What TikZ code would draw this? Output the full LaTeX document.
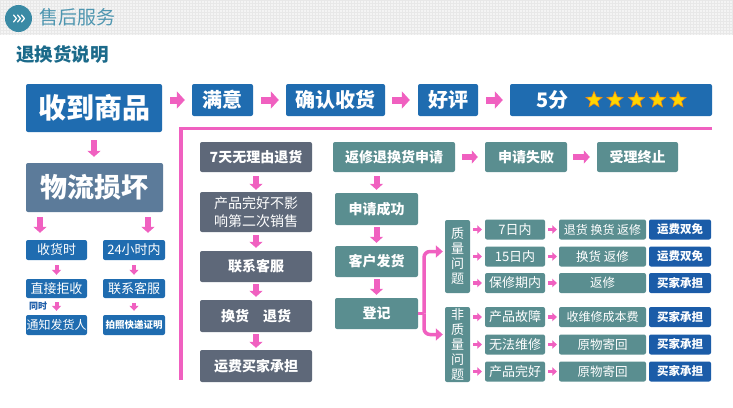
\documentclass[tikz,border=0pt]{standalone}
\usepackage{fontspec}
\setmainfont{Noto Sans CJK SC}
\usetikzlibrary{arrows.meta,shapes.geometric}
\definecolor{pk}{RGB}{240,96,192}
\definecolor{bl}{RGB}{31,108,176}
\definecolor{bld}{RGB}{27,92,168}
\definecolor{sl}{RGB}{92,123,154}
\definecolor{ds}{RGB}{94,104,121}
\definecolor{tl}{RGB}{90,142,144}
\definecolor{hd}{RGB}{78,150,176}
\definecolor{ic}{RGB}{58,138,165}
\definecolor{ht}{RGB}{27,106,138}
\definecolor{hb}{RGB}{244,244,244}
\definecolor{hg}{RGB}{232,232,232}
\definecolor{sty}{RGB}{255,214,0}
\definecolor{sto}{RGB}{240,140,20}
\begin{document}
\begin{tikzpicture}[x=1pt,y=-1pt,
  bx/.style={rounded corners=2pt, text=white, inner sep=0pt, align=center},
  big/.style={bx, fill=bl, font=\bfseries\fontsize{28}{32}\selectfont},
  rone/.style={bx, fill=bl, minimum height=32pt, font=\bfseries\fontsize{20}{24}\selectfont},
  lc/.style={bx, fill=bl, minimum width=61pt, minimum height=20pt, font=\fontsize{13}{15}\selectfont},
  dk/.style={bx, fill=ds, minimum width=112pt, font=\bfseries\fontsize{14}{18}\selectfont},
  tb/.style={bx, fill=tl, font=\bfseries\fontsize{14}{17}\selectfont},
  cb/.style={bx, fill=tl, minimum width=60pt, minimum height=20pt, font=\fontsize{13}{15}\selectfont},
  cc/.style={bx, fill=tl, minimum width=87pt, minimum height=20pt, font=\fontsize{12.5}{15}\selectfont},
  cd/.style={bx, fill=bld, minimum width=62pt, minimum height=20pt, font=\bfseries\fontsize{11.5}{14}\selectfont},
  vq/.style={bx, fill=tl, minimum width=25pt, font=\fontsize{13}{15}\selectfont},
  pa/.style={pk, line width=7pt, -{Triangle[length=8pt,width=17pt]}},
  pm/.style={pk, line width=6pt, -{Triangle[length=6pt,width=13pt]}},
  ps/.style={pk, line width=4pt, -{Triangle[length=5pt,width=9pt]}},
  pt/.style={pk, line width=3.5pt, -{Triangle[length=4.5pt,width=8.5pt]}},
  brk/.style={pk, line width=3.5pt, rounded corners=6pt},
  strs/.style={star, star points=5, star point ratio=2.3, fill=sty, draw=sto, line width=0.6pt, minimum size=17pt, inner sep=0pt}
]
\useasboundingbox (0,0) rectangle (733,407);
\fill[white] (0,0) rectangle (733,407);
% header band
\fill[hb] (0,0) rectangle (733,35);
\foreach \i in {0,3,...,733} \draw[hg, line width=0.5pt] (\i,0) -- (\i,35);
\foreach \j in {0,3,...,33} \draw[hg, line width=0.5pt] (0,\j) -- (733,\j);
\node[circle, fill=ic, minimum size=27pt, inner sep=0pt] (icon) at (18.5,18.5) {};
\foreach \d in {-5,-1,3}
  \draw[white, line width=1.2pt, line cap=round, line join=round]
    ([xshift=\d pt, yshift=3.5pt]icon.center) -- ([xshift={\d pt+3pt}]icon.center) -- ([xshift=\d pt, yshift=-3.5pt]icon.center);
\node[anchor=west, text=hd, font=\fontsize{19}{22}\selectfont, inner sep=0pt] (title) at (39,17.5) {售后服务};
\node[anchor=west, text=ht, font=\bfseries\fontsize{18.5}{22}\selectfont, inner sep=0pt] (sub) at (16,54.5) {退换货说明};

% row 1
\node[big, minimum width=136pt, minimum height=48pt] (sp) at (94,108) {收到商品};
\node[rone, minimum width=61pt] (my) at (222.5,100) {满意};
\node[rone, minimum width=99pt] (qr) at (335.5,100) {确认收货};
\node[rone, minimum width=60pt] (hp) at (448,100) {好评};
\node[rone, minimum width=202pt] (wf) at (611,100) {};
\node[text=white, font=\bfseries\fontsize{20}{24}\selectfont, inner sep=0pt] (wft) at (552.5,100) {5分};
\node[strs] (s1) at (594,100) {};
\node[strs] (s2) at (615,100) {};
\node[strs] (s3) at (636.5,100) {};
\node[strs] (s4) at (657.5,100) {};
\node[strs] (s5) at (678,100) {};
\draw[pa, shorten <=8pt, shorten >=7pt] (sp.east |- my.west) -- (my.west);
\draw[pa, shorten <=8pt, shorten >=7pt] (my.east) -- (qr.west);
\draw[pa, shorten <=7pt, shorten >=8pt] (qr.east) -- (hp.west);
\draw[pa, shorten <=8pt, shorten >=7pt] (hp.east) -- (wf.west);

% pink frame line
\draw[pk, line width=3.5pt] (712,128.5) -- (181,128.5) -- (181,380);

% left column
\node[bx, fill=sl, minimum width=137pt, minimum height=49pt, font=\bfseries\fontsize{27}{31}\selectfont] (wl) at (94.5,187.5) {物流损坏};
\draw[pm, shorten <=8pt, shorten >=6pt] (sp.south) -- (sp.south |- wl.north);
\node[lc] (sh) at (56.5,250) {收货时};
\node[lc, minimum width=62pt] (h24) at (134,250) {24小时内};
\node[lc, minimum height=19pt] (zj) at (56.5,288.5) {直接拒收};
\node[lc, minimum width=62pt, minimum height=19pt] (lk) at (134,288.5) {联系客服};
\node[lc, font=\fontsize{12}{14}\selectfont] (tz) at (56.5,325) {通知发货人};
\node[lc, minimum width=62pt, font=\bfseries\fontsize{9.5}{12}\selectfont] (pz) at (134,325) {拍照快递证明};
\draw[pm, shorten <=5pt, shorten >=7pt] ([xshift=-16.5pt]sh.north |- wl.south) -- ([xshift=-16.5pt]sh.north);
\draw[pm, shorten <=5pt, shorten >=7pt] ([xshift=14pt]h24.north |- wl.south) -- ([xshift=14pt]h24.north);
\draw[ps, shorten <=5pt, shorten >=4pt] (sh.south) -- (zj.north);
\draw[ps, shorten <=5pt, shorten >=4pt] (h24.south) -- (lk.north);
\draw[ps, shorten <=4pt, shorten >=4pt] (zj.south) -- (tz.north);
\draw[ps, shorten <=5pt, shorten >=4pt] (lk.south) -- (pz.north);
\node[text=bld, font=\bfseries\fontsize{9}{10}\selectfont, inner sep=0pt] (ts) at (38,306.5) {同时};

% 7-day column
\node[dk, minimum height=30pt] (q7) at (256,157) {7天无理由退货};
\node[dk, minimum height=40pt, font=\fontsize{14}{18}\selectfont] (cp) at (256,212) {产品完好不影\\响第二次销售};
\node[dk, minimum height=31pt] (kf) at (256,266.5) {联系客服};
\node[dk, minimum height=32pt] (hh) at (256,316) {换货　退货};
\node[dk, minimum height=32pt] (yf) at (256,366) {运费买家承担};
\draw[pm, shorten <=4pt, shorten >=2pt] (q7.south) -- (cp.north);
\draw[pm, shorten <=3pt, shorten >=3pt] (cp.south) -- (kf.north);
\draw[pm, shorten <=2pt, shorten >=3pt] (kf.south) -- (hh.north);
\draw[pm, shorten <=2pt, shorten >=2pt] (hh.south) -- (yf.north);

% repair column
\node[tb, minimum width=122pt, minimum height=30pt] (fx) at (394,157) {返修退换货申请};
\node[tb, minimum width=82pt, minimum height=30pt] (sb) at (526,157) {申请失败};
\node[tb, minimum width=81pt, minimum height=30pt] (zz) at (637.5,157) {受理终止};
\node[tb, minimum width=83pt, minimum height=32pt] (cg) at (376.5,209) {申请成功};
\node[tb, minimum width=83pt, minimum height=31pt] (kh) at (376.5,261.5) {客户发货};
\node[tb, minimum width=83pt, minimum height=31pt] (dj) at (376.5,313.5) {登记};
\draw[pm, shorten <=7pt, shorten >=7pt] (fx.east) -- (sb.west);
\draw[pm, shorten <=6pt, shorten >=7pt] (sb.east) -- (zz.west);
\draw[pm, shorten <=4pt, shorten >=3pt] (cg.north |- fx.south) -- (cg.north);
\draw[pm, shorten <=2pt, shorten >=3pt] (cg.south) -- (kh.north);
\draw[pm, shorten <=2pt, shorten >=3pt] (kh.south) -- (dj.north);

% quality groups
\node[vq, minimum height=73pt] (zl) at (457.5,256.5) {质\\量\\问\\题};
\node[vq, minimum height=75pt] (fz) at (457.5,344.5) {非\\质\\量\\问\\题};
\coordinate (bk) at (424,313.5);
\draw[brk] (dj.east) -- (bk);
\draw[brk, -{Triangle[length=7pt,width=12pt]}, shorten >=2pt] (bk) |- ([yshift=5pt]zl.west);
\draw[brk, -{Triangle[length=7pt,width=12pt]}, shorten >=2pt] (bk) |- ([yshift=10pt]fz.west);

% rows
\node[cb] (b1) at (515,229.5) {7日内};
\node[cb] (b2) at (515,256.5) {15日内};
\node[cb] (b3) at (515,283) {保修期内};
\node[cb] (b4) at (515,317) {产品故障};
\node[cb] (b5) at (515,344.5) {无法维修};
\node[cb] (b6) at (515,371.5) {产品完好};
\node[cc, font=\fontsize{12}{14}\selectfont] (c1) at (602.5,229.5) {退货 换货 返修};
\node[cc] (c2) at (602.5,256.5) {换货 返修};
\node[cc] (c3) at (602.5,283) {返修};
\node[cc, font=\fontsize{12}{14}\selectfont] (c4) at (602.5,317) {收维修成本费};
\node[cc] (c5) at (602.5,344.5) {原物寄回};
\node[cc] (c6) at (602.5,371.5) {原物寄回};
\node[cd] (d1) at (680,229.5) {运费双免};
\node[cd] (d2) at (680,256.5) {运费双免};
\node[cd] (d3) at (680,283) {买家承担};
\node[cd] (d4) at (680,317) {买家承担};
\node[cd] (d5) at (680,344.5) {买家承担};
\node[cd] (d6) at (680,371.5) {买家承担};
\foreach \r/\g in {1/zl,2/zl,3/zl,4/fz,5/fz,6/fz}{
  \draw[pt, shorten <=3pt, shorten >=3pt] (b\r.west -| \g.east) -- (b\r.west);
  \draw[pt, shorten <=3pt, shorten >=2pt] (b\r.east) -- (c\r.west);
}
\end{tikzpicture}
\end{document}
